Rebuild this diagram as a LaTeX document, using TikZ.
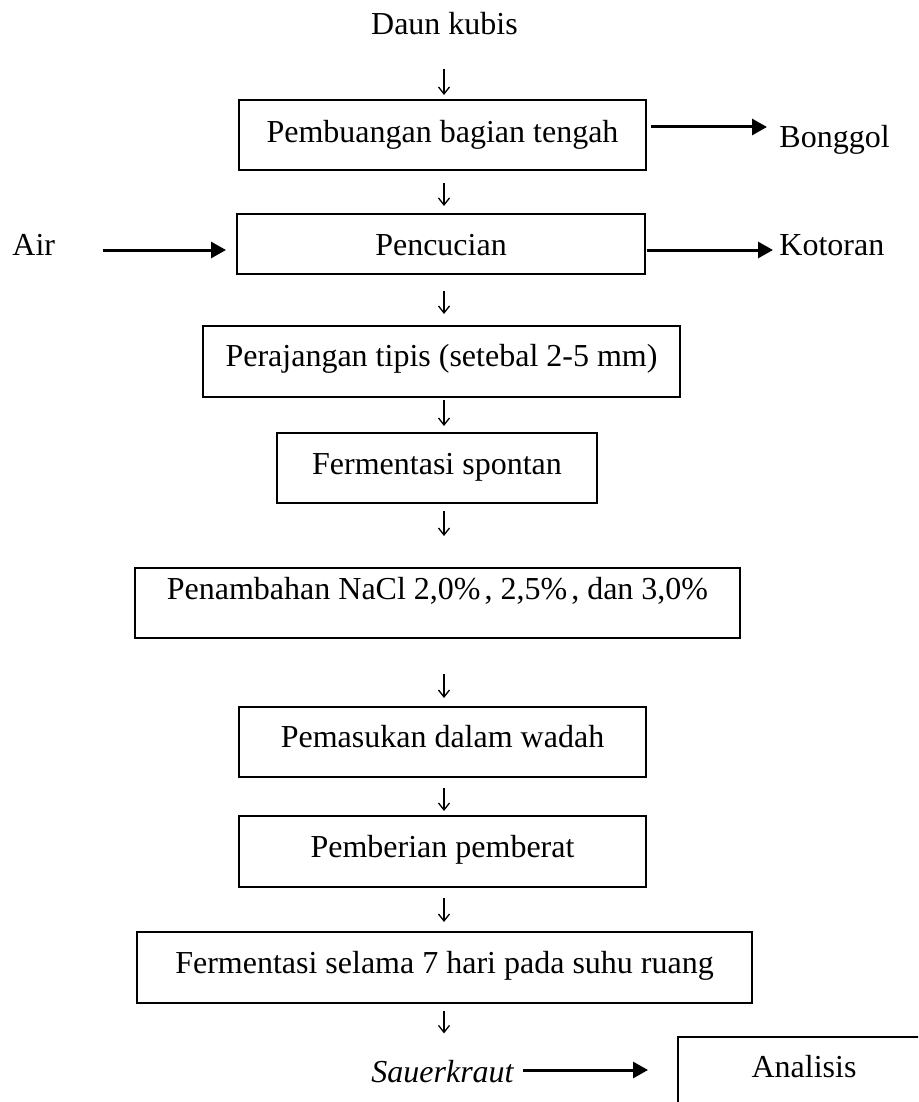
\documentclass[tikz,border=0pt]{standalone}
\usepackage{fontspec}
\setmainfont{Liberation Serif}
\usetikzlibrary{arrows.meta,calc}
\begin{document}
\begin{tikzpicture}[x=0.5pt,y=-0.5pt,
  txt/.style={inner sep=0pt, font=\fontsize{16pt}{19pt}\selectfont},
  box/.style={draw, line width=1pt, inner sep=0pt, font=\fontsize{16pt}{19pt}\selectfont, text height=14pt, text depth=8.5pt, align=center},
  dn/.style={line width=0.65pt, -{Straight Barb[length=3.5pt,width=5.5pt]}},
  harr/.style={line width=1.5pt, -{Triangle[length=7.5pt,width=8pt]}}]
\useasboundingbox (0,0) rectangle (918,1102);
\clip (0,0) rectangle (918,1102);
\fill[white] (0,0) rectangle (918,1102);

\coordinate (col) at (444,0);
\coordinate (r1) at (0,127);
\coordinate (r2) at (0,250);
\coordinate (r9) at (0,1070);

\node[txt, anchor=base] (daun) at (444.5,35) {Daun kubis};
\node[box, minimum width=203.5pt, minimum height=35pt, text depth=7pt] (b1) at (442.5,135) {Pembuangan bagian tengah};
\node[box, minimum width=204pt, minimum height=30pt, text depth=2.3pt] (b2) at (441,244) {Pencucian};
\node[box, minimum width=238.5pt, minimum height=35.5pt, text depth=8.8pt] (b3) at (441.5,361.5) {Perajangan tipis (setebal 2-5 mm)};
\node[box, minimum width=160pt, minimum height=35pt, text depth=8pt] (b4) at (437,468) {Fermentasi spontan};
\node[box, minimum width=302.5pt, minimum height=35pt, text depth=17.5pt] (b5) at (437.5,603) {Penambahan NaCl 2,0\%\kern2pt, 2,5\%\kern2pt, dan 3,0\%};
\node[box, minimum width=203.5pt, minimum height=35pt] (b6) at (442.5,742) {Pemasukan dalam wadah};
\node[box, minimum width=203.5pt, minimum height=35.5pt] (b7) at (442.5,851.5) {Pemberian pemberat};
\node[box, minimum width=307.5pt, minimum height=35.5pt] (b8) at (444.5,967.5) {Fermentasi selama 7 hari pada suhu ruang};
\node[box, minimum width=126pt, minimum height=35pt, text depth=9pt] (ana) at (804,1072) {Analisis};

\node[txt, anchor=base west] (bong) at (779,148) {Bonggol};
\node[txt, anchor=base west] (air) at (12,255.7) {Air};
\node[txt, anchor=base west] (kot) at (779,255.7) {Kotoran};
\node[txt, anchor=base east, font=\fontsize{16pt}{19pt}\selectfont\itshape] (sauer) at (514,1082) {Sauerkraut};

\draw[harr, shorten <=2pt, shorten >=6pt] (b1.east |- r1) -- (bong.west |- r1);
\draw[harr, shorten <=24pt, shorten >=5pt] (air.east |- r2) -- (b2.west |- r2);
\draw[harr, shorten <=0.5pt, shorten >=3pt] (b2.east |- r2) -- (kot.west |- r2);
\draw[harr, shorten <=4.5pt, shorten >=14.5pt] (sauer.east |- r9) -- (ana.west |- r9);

\draw[dn, shorten <=16.5pt, shorten >=2pt] (daun.south -| col) -- (b1.north -| col);
\draw[dn, shorten <=6pt, shorten >=3.5pt] (b1.south -| col) -- (b2.north -| col);
\draw[dn, shorten <=8pt, shorten >=5.5pt] (b2.south -| col) -- (b3.north -| col);
\draw[dn, shorten <=1pt, shorten >=3pt] (b3.south -| col) -- (b4.north -| col);
\draw[dn, shorten <=3.5pt, shorten >=15.5pt] (b4.south -| col) -- (b5.north -| col);
\draw[dn, shorten <=17.5pt, shorten >=4pt] (b5.south -| col) -- (b6.north -| col);
\draw[dn, shorten <=5pt, shorten >=2pt] (b6.south -| col) -- (b7.north -| col);
\draw[dn, shorten <=5pt, shorten >=4.5pt] (b7.south -| col) -- (b8.north -| col);
\draw[dn, shorten <=3.5pt, shorten >=13pt] (b8.south -| col) -- (sauer.north -| col);
\end{tikzpicture}
\end{document}
